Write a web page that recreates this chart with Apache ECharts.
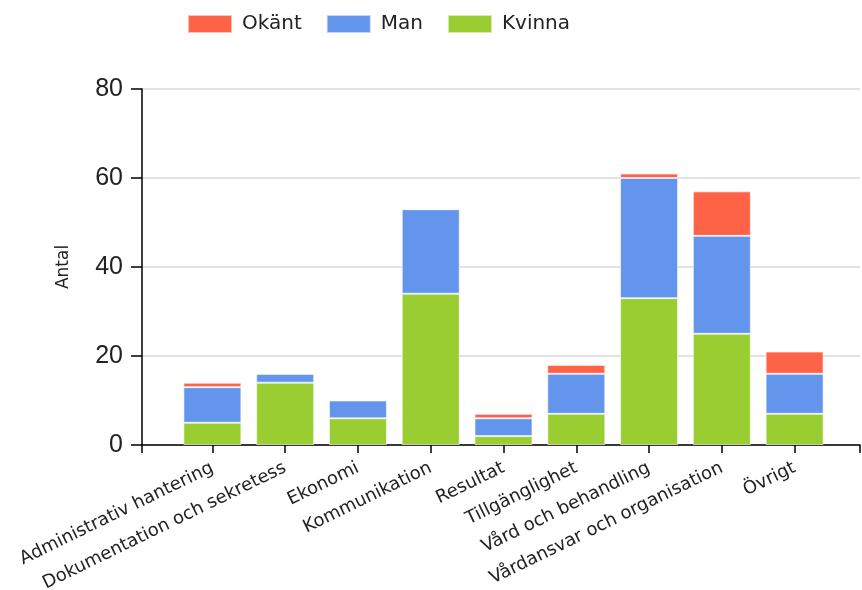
<!DOCTYPE html>
<html>
<head>
<meta charset="utf-8">
<script src="https://cdn.jsdelivr.net/npm/echarts@6/dist/echarts.min.js"></script>
<style>
html, body { margin: 0; padding: 0; background: #fff; }
#main { width: 862px; height: 590px; }
</style>
</head>
<body>
<div id="main"></div>
<script>
var categories = ['Administrativ hantering', 'Dokumentation och sekretess', 'Ekonomi', 'Kommunikation',
    'Resultat', 'Tillgänglighet', 'Vård och behandling', 'Vårdansvar och organisation', 'Övrigt'];
var kvinna = [5, 14, 6, 34, 2, 7, 33, 25, 7];
var man = [8, 2, 4, 19, 4, 9, 27, 22, 9];
var okant = [1, 0, 0, 0, 1, 2, 1, 10, 5];
var yTicks = [0, 20, 40, 60, 80];

var myChart = echarts.init(document.getElementById('main'));

var barBorder = { borderColor: 'rgba(255,255,255,0.6)', borderWidth: 1 };

function bar(name, data, color) {
    return {
        name: name,
        type: 'bar',
        stack: 'total',
        xAxisIndex: 0,
        yAxisIndex: 0,
        barWidth: 58,
        data: data,
        itemStyle: Object.assign({ color: color }, barBorder)
    };
}

var option = {
    animation: false,
    legend: {
        top: 14,
        left: 187,
        padding: 0,
        itemWidth: 44,
        itemHeight: 18,
        itemGap: 24,
        icon: 'rect',
        data: ['Okänt', 'Man', 'Kvinna'],
        textStyle: { fontSize: 20, color: '#222', fontFamily: 'DejaVu Sans', padding: [0, 0, 0, 5] }
    },
    grid: [
        { left: 176, right: 31, top: 89, bottom: 145, containLabel: false, outerBoundsMode: 'none' },
        { left: 142, right: 2, top: 89, bottom: 145, containLabel: false, outerBoundsMode: 'none' }
    ],
    xAxis: [
        {
            type: 'category',
            gridIndex: 0,
            data: categories,
            axisLine: { show: false },
            axisTick: { show: true, alignWithLabel: true, length: 8, lineStyle: { color: '#000', width: 1.5 } },
            axisLabel: { rotate: 26, margin: 22, fontSize: 18, color: '#222', fontFamily: 'DejaVu Sans', interval: 0 }
        },
        {
            type: 'value',
            gridIndex: 1,
            min: 0,
            max: 1,
            interval: 1,
            axisLine: { show: true, lineStyle: { color: '#000', width: 1.5 } },
            axisTick: { show: true, length: 8, lineStyle: { color: '#000', width: 1.5 } },
            axisLabel: { show: false },
            splitLine: { show: false }
        }
    ],
    yAxis: [
        {
            type: 'value',
            gridIndex: 0,
            min: 0,
            max: 80,
            interval: 20,
            show: false
        },
        {
            type: 'value',
            gridIndex: 1,
            min: yTicks[0],
            max: yTicks[yTicks.length - 1],
            interval: 20,
            name: 'Antal',
            nameLocation: 'middle',
            nameGap: 70,
            nameRotate: 90,
            nameTextStyle: { fontSize: 17, color: '#222', fontFamily: 'DejaVu Sans' },
            axisLine: { show: true, lineStyle: { color: '#000', width: 1.5 } },
            axisTick: { show: true, length: 11, lineStyle: { color: '#000', width: 1.5 } },
            axisLabel: { margin: 19, fontSize: 25, color: '#222', fontFamily: 'Liberation Sans' },
            splitLine: { show: true, lineStyle: { color: '#d8d8d8', width: 1.5 } }
        }
    ],
    series: [
        bar('Kvinna', kvinna, '#9acd32'),
        bar('Man', man, '#6495ed'),
        bar('Okänt', okant, '#ff6347')
    ]
};

myChart.setOption(option);
</script>
</body>
</html>
